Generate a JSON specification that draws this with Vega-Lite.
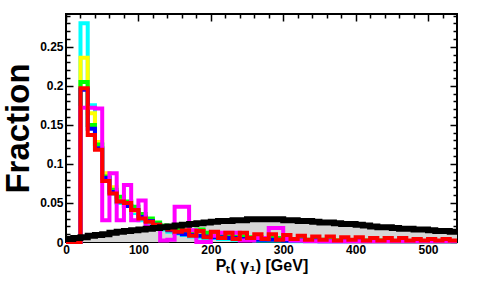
{
  "$schema": "https://vega.github.io/schema/vega-lite/v6.json",
  "width": 391,
  "height": 228,
  "autosize": "none",
  "padding": {"left": 66, "top": 14, "right": 20, "bottom": 65},
  "config": {
    "font": "Liberation Sans",
    "view": {"stroke": "black", "strokeWidth": 2},
    "axis": {"domain": false, "grid": false, "tickColor": "black", "tickWidth": 1.5, "labelColor": "black", "titleColor": "black", "labelFont": "Liberation Sans", "labelFontWeight": "bold", "labelFontSize": 12, "labelFlush": false, "labelOverlap": false}
  },
  "data": {
    "values": [
      {"x": 0, "cyan": 0, "yellow": 0, "green": 0, "blue": 0, "magenta": 0, "red": 0, "black": 0.004},
      {"x": 10, "cyan": 0, "yellow": 0, "green": 0, "blue": 0, "magenta": 0, "red": 0, "black": 0.005},
      {"x": 20, "cyan": 0.280, "yellow": 0.236, "green": 0.205, "blue": 0.195, "magenta": 0.172, "red": 0.197, "black": 0.006},
      {"x": 30, "cyan": 0.175, "yellow": 0.165, "green": 0.150, "blue": 0.145, "magenta": 0.172, "red": 0.137, "black": 0.008},
      {"x": 40, "cyan": 0.125, "yellow": 0.128, "green": 0.125, "blue": 0.120, "magenta": 0.171, "red": 0.118, "black": 0.009},
      {"x": 50, "cyan": 0.083, "yellow": 0.088, "green": 0.084, "blue": 0.082, "magenta": 0.028, "red": 0.078, "black": 0.010},
      {"x": 60, "cyan": 0.062, "yellow": 0.070, "green": 0.067, "blue": 0.064, "magenta": 0.088, "red": 0.062, "black": 0.012},
      {"x": 70, "cyan": 0.050, "yellow": 0.055, "green": 0.058, "blue": 0.052, "magenta": 0.028, "red": 0.052, "black": 0.013},
      {"x": 80, "cyan": 0.046, "yellow": 0.047, "green": 0.052, "blue": 0.046, "magenta": 0.073, "red": 0.050, "black": 0.014},
      {"x": 90, "cyan": 0.037, "yellow": 0.040, "green": 0.045, "blue": 0.041, "magenta": 0.028, "red": 0.041, "black": 0.015},
      {"x": 100, "cyan": 0.028, "yellow": 0.033, "green": 0.036, "blue": 0.032, "magenta": 0.053, "red": 0.030, "black": 0.016},
      {"x": 110, "cyan": 0.024, "yellow": 0.028, "green": 0.030, "blue": 0.027, "magenta": 0.020, "red": 0.026, "black": 0.017},
      {"x": 120, "cyan": 0.020, "yellow": 0.022, "green": 0.025, "blue": 0.022, "magenta": 0.020, "red": 0.022, "black": 0.018},
      {"x": 130, "cyan": 0.016, "yellow": 0.018, "green": 0.021, "blue": 0.018, "magenta": 0.002, "red": 0.018, "black": 0.019},
      {"x": 140, "cyan": 0.013, "yellow": 0.015, "green": 0.018, "blue": 0.015, "magenta": 0.003, "red": 0.016, "black": 0.020},
      {"x": 150, "cyan": 0.011, "yellow": 0.013, "green": 0.016, "blue": 0.012, "magenta": 0.045, "red": 0.013, "black": 0.021},
      {"x": 160, "cyan": 0.009, "yellow": 0.011, "green": 0.014, "blue": 0.010, "magenta": 0.045, "red": 0.015, "black": 0.022},
      {"x": 170, "cyan": 0.007, "yellow": 0.010, "green": 0.013, "blue": 0.009, "magenta": 0.015, "red": 0.008, "black": 0.023},
      {"x": 180, "cyan": 0.006, "yellow": 0.009, "green": 0.016, "blue": 0.008, "magenta": 0.000, "red": 0.014, "black": 0.024},
      {"x": 190, "cyan": 0.005, "yellow": 0.008, "green": 0.012, "blue": 0.007, "magenta": 0.000, "red": 0.006, "black": 0.025},
      {"x": 200, "cyan": 0.005, "yellow": 0.007, "green": 0.010, "blue": 0.006, "magenta": 0.008, "red": 0.013, "black": 0.026},
      {"x": 210, "cyan": 0.004, "yellow": 0.006, "green": 0.009, "blue": 0.006, "magenta": 0.012, "red": 0.005, "black": 0.027},
      {"x": 220, "cyan": 0.004, "yellow": 0.006, "green": 0.008, "blue": 0.005, "magenta": 0.012, "red": 0.012, "black": 0.027},
      {"x": 230, "cyan": 0.003, "yellow": 0.005, "green": 0.007, "blue": 0.005, "magenta": 0.012, "red": 0.004, "black": 0.028},
      {"x": 240, "cyan": 0.003, "yellow": 0.005, "green": 0.007, "blue": 0.004, "magenta": 0.002, "red": 0.012, "black": 0.028},
      {"x": 250, "cyan": 0.003, "yellow": 0.004, "green": 0.006, "blue": 0.004, "magenta": 0.002, "red": 0.005, "black": 0.029},
      {"x": 260, "cyan": 0.002, "yellow": 0.004, "green": 0.006, "blue": 0.003, "magenta": 0.005, "red": 0.010, "black": 0.029},
      {"x": 270, "cyan": 0.002, "yellow": 0.004, "green": 0.005, "blue": 0.003, "magenta": 0.005, "red": 0.004, "black": 0.029},
      {"x": 280, "cyan": 0.002, "yellow": 0.003, "green": 0.005, "blue": 0.003, "magenta": 0.018, "red": 0.010, "black": 0.029},
      {"x": 290, "cyan": 0.002, "yellow": 0.003, "green": 0.005, "blue": 0.003, "magenta": 0.018, "red": 0.003, "black": 0.029},
      {"x": 300, "cyan": 0.002, "yellow": 0.003, "green": 0.004, "blue": 0.002, "magenta": 0.004, "red": 0.009, "black": 0.028},
      {"x": 310, "cyan": 0.001, "yellow": 0.003, "green": 0.004, "blue": 0.002, "magenta": 0.002, "red": 0.004, "black": 0.028},
      {"x": 320, "cyan": 0.001, "yellow": 0.002, "green": 0.004, "blue": 0.002, "magenta": 0.002, "red": 0.008, "black": 0.027},
      {"x": 330, "cyan": 0.001, "yellow": 0.002, "green": 0.003, "blue": 0.002, "magenta": 0.001, "red": 0.003, "black": 0.027},
      {"x": 340, "cyan": 0.001, "yellow": 0.002, "green": 0.003, "blue": 0.002, "magenta": 0.001, "red": 0.007, "black": 0.026},
      {"x": 350, "cyan": 0.001, "yellow": 0.002, "green": 0.003, "blue": 0.001, "magenta": 0.001, "red": 0.003, "black": 0.025},
      {"x": 360, "cyan": 0.001, "yellow": 0.002, "green": 0.003, "blue": 0.001, "magenta": 0.001, "red": 0.007, "black": 0.025},
      {"x": 370, "cyan": 0.001, "yellow": 0.002, "green": 0.002, "blue": 0.001, "magenta": 0.001, "red": 0.002, "black": 0.024},
      {"x": 380, "cyan": 0.001, "yellow": 0.002, "green": 0.002, "blue": 0.001, "magenta": 0.001, "red": 0.006, "black": 0.023},
      {"x": 390, "cyan": 0.001, "yellow": 0.001, "green": 0.002, "blue": 0.001, "magenta": 0.001, "red": 0.003, "black": 0.023},
      {"x": 400, "cyan": 0.001, "yellow": 0.001, "green": 0.002, "blue": 0.001, "magenta": 0.001, "red": 0.006, "black": 0.022},
      {"x": 410, "cyan": 0.001, "yellow": 0.001, "green": 0.002, "blue": 0.001, "magenta": 0.001, "red": 0.002, "black": 0.021},
      {"x": 420, "cyan": 0.001, "yellow": 0.001, "green": 0.002, "blue": 0.001, "magenta": 0.001, "red": 0.005, "black": 0.020},
      {"x": 430, "cyan": 0.001, "yellow": 0.001, "green": 0.002, "blue": 0.001, "magenta": 0.001, "red": 0.002, "black": 0.019},
      {"x": 440, "cyan": 0.001, "yellow": 0.001, "green": 0.002, "blue": 0.001, "magenta": 0.001, "red": 0.005, "black": 0.019},
      {"x": 450, "cyan": 0.001, "yellow": 0.001, "green": 0.001, "blue": 0.001, "magenta": 0.001, "red": 0.002, "black": 0.018},
      {"x": 460, "cyan": 0.001, "yellow": 0.001, "green": 0.001, "blue": 0.001, "magenta": 0.001, "red": 0.005, "black": 0.017},
      {"x": 470, "cyan": 0.001, "yellow": 0.001, "green": 0.001, "blue": 0.001, "magenta": 0.001, "red": 0.002, "black": 0.017},
      {"x": 480, "cyan": 0.001, "yellow": 0.001, "green": 0.001, "blue": 0.001, "magenta": 0.001, "red": 0.004, "black": 0.016},
      {"x": 490, "cyan": 0.001, "yellow": 0.001, "green": 0.001, "blue": 0.001, "magenta": 0.001, "red": 0.002, "black": 0.016},
      {"x": 500, "cyan": 0.001, "yellow": 0.001, "green": 0.001, "blue": 0.001, "magenta": 0.001, "red": 0.004, "black": 0.015},
      {"x": 510, "cyan": 0.001, "yellow": 0.001, "green": 0.001, "blue": 0.001, "magenta": 0.001, "red": 0.002, "black": 0.014},
      {"x": 520, "cyan": 0.001, "yellow": 0.001, "green": 0.001, "blue": 0.001, "magenta": 0.001, "red": 0.004, "black": 0.014},
      {"x": 530, "cyan": 0.001, "yellow": 0.001, "green": 0.001, "blue": 0.001, "magenta": 0.001, "red": 0.002, "black": 0.013},
      {"x": 540, "cyan": 0.001, "yellow": 0.001, "green": 0.001, "blue": 0.001, "magenta": 0.001, "red": 0.002, "black": 0.013}
    ]
  },
  "resolve": {"axis": {"x": "independent", "y": "independent"}},
  "layer": [
    {
      "mark": {"type": "area", "interpolate": "step-after", "color": "#d6d6d6"},
      "encoding": {
        "x": {"field": "x", "type": "quantitative", "scale": {"domain": [0, 540], "nice": false, "zero": false},
          "axis": {"orient": "bottom", "values": [0, 100, 200, 300, 400, 500], "tickSize": -7, "labelPadding": 9, "title": "Pₜ( γ₁) [GeV]", "titleFontSize": 16, "titleFontWeight": "bold", "titleY": 28, "titleBaseline": "alphabetic"}},
        "y": {"field": "black", "type": "quantitative", "scale": {"domain": [0, 0.292], "nice": false, "zero": false},
          "axis": {"orient": "left", "values": [0, 0.05, 0.1, 0.15, 0.2, 0.25], "format": "~g", "tickSize": -7, "labelPadding": 10, "title": "Fraction", "titleFontSize": 33, "titleFontWeight": "bold", "titleAngle": -90, "titleX": -38, "titleY": 114, "titleAlign": "center", "titleBaseline": "alphabetic"}}
      }
    },
    {
      "mark": {"type": "line", "interpolate": "step-after", "color": "#00ffff", "strokeWidth": 4},
      "encoding": {
        "x": {"field": "x", "type": "quantitative", "scale": {"domain": [0, 540], "nice": false, "zero": false},
          "axis": {"orient": "bottom", "values": [20, 40, 60, 80, 120, 140, 160, 180, 220, 240, 260, 280, 320, 340, 360, 380, 420, 440, 460, 480, 520], "tickSize": -4, "labels": false, "title": null}},
        "y": {"field": "cyan", "type": "quantitative", "scale": {"domain": [0, 0.292], "nice": false, "zero": false},
          "axis": {"orient": "left", "values": [0.01, 0.02, 0.03, 0.04, 0.06, 0.07, 0.08, 0.09, 0.11, 0.12, 0.13, 0.14, 0.16, 0.17, 0.18, 0.19, 0.21, 0.22, 0.23, 0.24, 0.26, 0.27, 0.28, 0.29], "tickSize": -4, "labels": false, "title": null}}
      }
    },
    {
      "mark": {"type": "line", "interpolate": "step-after", "color": "#ffff00", "strokeWidth": 4},
      "encoding": {
        "x": {"field": "x", "type": "quantitative", "scale": {"domain": [0, 540], "nice": false, "zero": false},
          "axis": {"orient": "top", "values": [0, 100, 200, 300, 400, 500], "tickSize": -7, "labels": false, "title": null}},
        "y": {"field": "yellow", "type": "quantitative", "scale": {"domain": [0, 0.292], "nice": false, "zero": false},
          "axis": {"orient": "right", "values": [0, 0.05, 0.1, 0.15, 0.2, 0.25], "tickSize": -7, "labels": false, "title": null}}
      }
    },
    {
      "mark": {"type": "line", "interpolate": "step-after", "color": "#00ff00", "strokeWidth": 4},
      "encoding": {
        "x": {"field": "x", "type": "quantitative", "scale": {"domain": [0, 540], "nice": false, "zero": false},
          "axis": {"orient": "top", "values": [20, 40, 60, 80, 120, 140, 160, 180, 220, 240, 260, 280, 320, 340, 360, 380, 420, 440, 460, 480, 520], "tickSize": -4, "labels": false, "title": null}},
        "y": {"field": "green", "type": "quantitative", "scale": {"domain": [0, 0.292], "nice": false, "zero": false},
          "axis": {"orient": "right", "values": [0.01, 0.02, 0.03, 0.04, 0.06, 0.07, 0.08, 0.09, 0.11, 0.12, 0.13, 0.14, 0.16, 0.17, 0.18, 0.19, 0.21, 0.22, 0.23, 0.24, 0.26, 0.27, 0.28, 0.29], "tickSize": -4, "labels": false, "title": null}}
      }
    },
    {
      "mark": {"type": "line", "interpolate": "step-after", "color": "#0000ff", "strokeWidth": 4},
      "encoding": {
        "x": {"field": "x", "type": "quantitative", "scale": {"domain": [0, 540], "nice": false, "zero": false}, "axis": null},
        "y": {"field": "blue", "type": "quantitative", "scale": {"domain": [0, 0.292], "nice": false, "zero": false}, "axis": null}
      }
    },
    {
      "mark": {"type": "line", "interpolate": "step-after", "color": "#ff00ff", "strokeWidth": 4},
      "encoding": {
        "x": {"field": "x", "type": "quantitative", "scale": {"domain": [0, 540], "nice": false, "zero": false}, "axis": null},
        "y": {"field": "magenta", "type": "quantitative", "scale": {"domain": [0, 0.292], "nice": false, "zero": false}, "axis": null}
      }
    },
    {
      "mark": {"type": "line", "interpolate": "step-after", "color": "#ff0000", "strokeWidth": 4},
      "encoding": {
        "x": {"field": "x", "type": "quantitative", "scale": {"domain": [0, 540], "nice": false, "zero": false}, "axis": null},
        "y": {"field": "red", "type": "quantitative", "scale": {"domain": [0, 0.292], "nice": false, "zero": false}, "axis": null}
      }
    },
    {
      "mark": {"type": "line", "interpolate": "step-after", "color": "#000000", "strokeWidth": 6},
      "encoding": {
        "x": {"field": "x", "type": "quantitative", "scale": {"domain": [0, 540], "nice": false, "zero": false}, "axis": null},
        "y": {"field": "black", "type": "quantitative", "scale": {"domain": [0, 0.292], "nice": false, "zero": false}, "axis": null}
      }
    }
  ]
}
